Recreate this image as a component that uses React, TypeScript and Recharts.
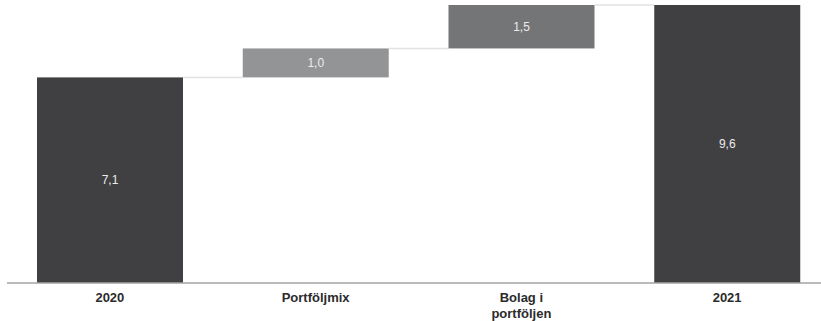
import { BarChart, Bar, XAxis, YAxis, LabelList, Cell } from "recharts";

const categories = ["2020", "Portföljmix", "Bolag i\nportföljen", "2021"];
const offsets = [0, 7.1, 8.1, 0];
const values = [7.1, 1.0, 1.5, 9.6];
const colors = ["#404042", "#939496", "#747577", "#404042"];

const data = categories.map((name, i) => ({
  name,
  base: offsets[i],
  value: values[i],
}));

const CHART_W = 840;
const M_LEFT = 7;
const M_RIGHT = 10;
const BAR = 146;
const GAP = (CHART_W - M_LEFT - M_RIGHT) / categories.length - BAR;

const StepBar = (props: any) => {
  const { x, y, width, height, fill, index } = props;
  return (
    <g>
      <rect x={x} y={y} width={width} height={height} fill={fill} />
      {index < categories.length - 1 && (
        <line
          x1={x + width}
          x2={x + width + GAP}
          y1={y}
          y2={y}
          stroke="#e2e2e2"
          strokeWidth={1.5}
        />
      )}
    </g>
  );
};

const Tick = (props: any) => {
  const { x, y, payload } = props;
  const lines = String(payload.value).split("\n");
  return (
    <text
      x={x}
      y={y}
      textAnchor="middle"
      fontSize={13}
      fontWeight="bold"
      fill="#2b2b2b"
      fontFamily="'Liberation Sans', Arial, sans-serif"
    >
      {lines.map((l, i) => (
        <tspan key={i} x={x} dy={i === 0 ? 11 : 16}>
          {l}
        </tspan>
      ))}
    </text>
  );
};

export default function App() {
  return (
    <div
      style={{
        position: "absolute",
        left: 0,
        top: 0,
        width: 821,
        height: 321,
        overflow: "hidden",
        background: "#fff",
      }}
    >
      <BarChart
        width={CHART_W}
        height={321}
        data={data}
        margin={{ top: 5, right: M_RIGHT, left: M_LEFT, bottom: 0 }}
        barSize={BAR}
      >
        <XAxis
          dataKey="name"
          tick={<Tick />}
          tickLine={false}
          axisLine={{ stroke: "#a3a3a3", strokeWidth: 1.5 }}
          height={38}
          interval={0}
        />
        <YAxis hide domain={[0, 9.6]} />
        <Bar dataKey="base" stackId="w" fill="transparent" isAnimationActive={false} />
        <Bar dataKey="value" stackId="w" shape={<StepBar />} isAnimationActive={false}>
          {data.map((_, i) => (
            <Cell key={i} fill={colors[i]} />
          ))}
          <LabelList
            dataKey="value"
            position="center"
            fill="#ececec"
            fontSize={12}
            fontFamily="'Liberation Sans', Arial, sans-serif"
            formatter={(v: any) => Number(v).toFixed(1).replace(".", ",")}
          />
        </Bar>
      </BarChart>
    </div>
  );
}
